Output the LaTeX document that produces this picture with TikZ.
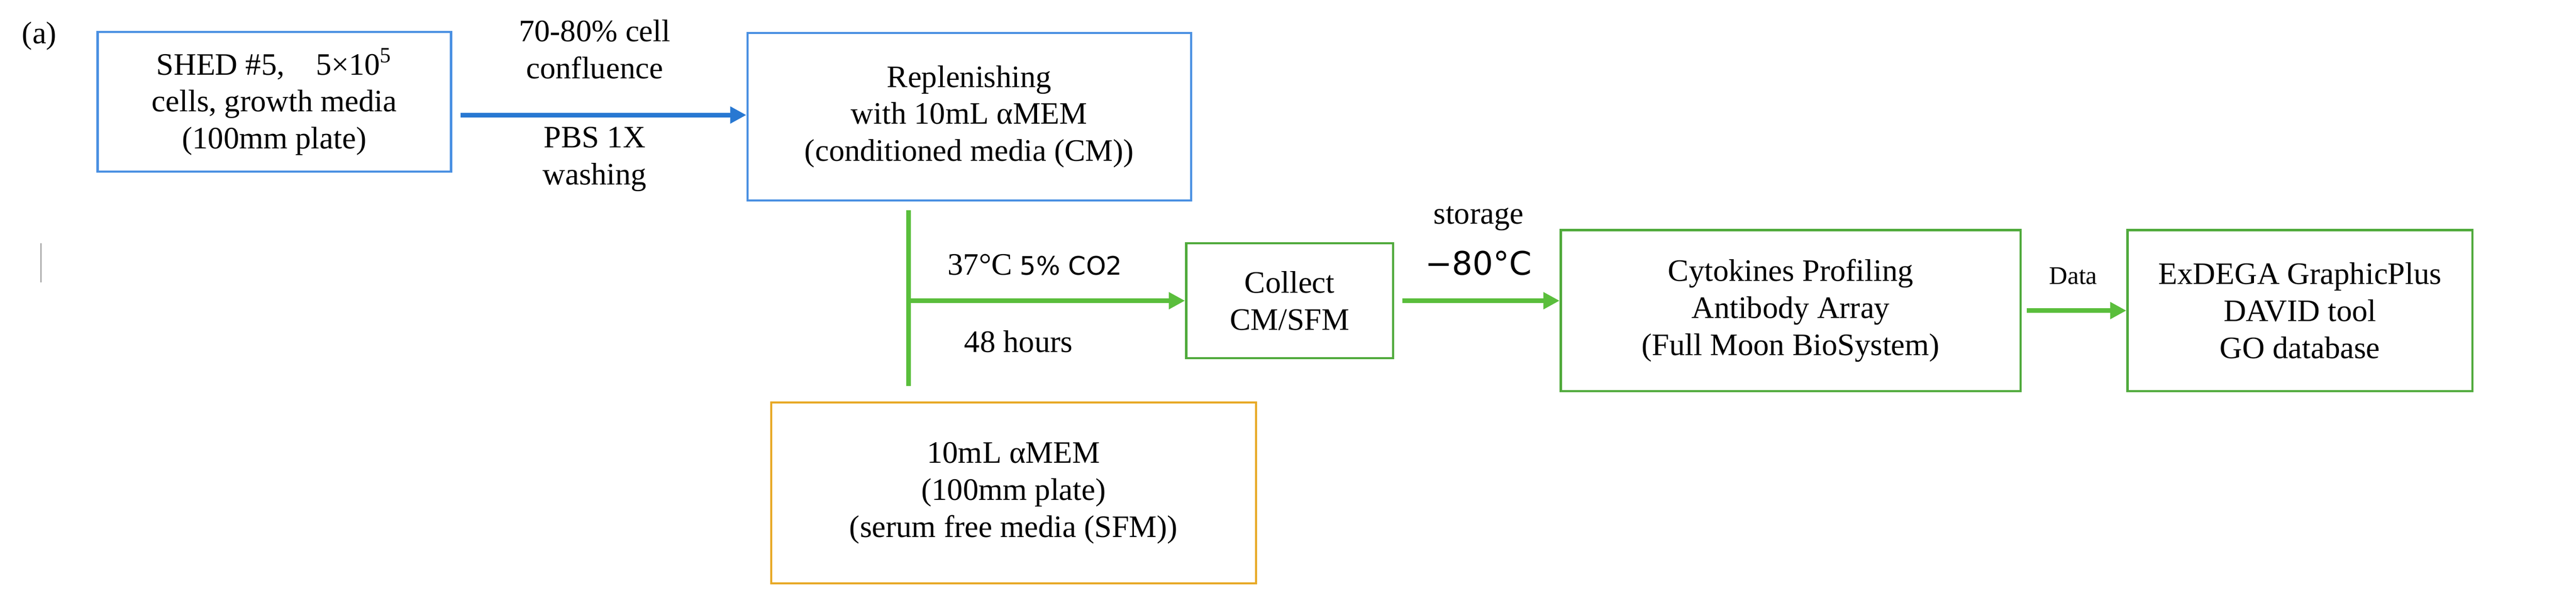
\documentclass[tikz,border=0pt]{standalone}
\usepackage{fontspec}
\setmainfont{Liberation Serif}
\usetikzlibrary{positioning,arrows.meta}
\definecolor{boxblue}{RGB}{74,144,226}
\definecolor{arrblue}{RGB}{40,120,210}
\definecolor{boxgreen}{RGB}{80,170,60}
\definecolor{arrgreen}{RGB}{90,190,60}
\definecolor{boxorange}{RGB}{232,170,40}
\begin{document}
\begin{tikzpicture}[x=0.025cm, y=-0.025cm, font=\fontsize{13.5}{16}\selectfont,
    box/.style={draw, line width=1pt, align=center, inner sep=0pt},
    flow/.style={line width=2pt, -{Triangle[length=7pt,width=7pt]}},
    lbl/.style={align=center, inner sep=1pt}]
    \useasboundingbox (0,0) rectangle (1568,368);
    \node at (24,22) {(a)};
    \draw[gray!60, line width=0.6pt] (25,148) -- (25,172);
    \node[box, draw=boxblue, minimum width=215*0.025cm, minimum height=85*0.025cm] (shed) at (167,62) {SHED \#5,\quad 5×10\textsuperscript{5}\\cells, growth media\\(100mm plate)};
    \node[box, draw=boxblue, minimum width=270*0.025cm, minimum height=102*0.025cm] (replen) at (590,71) {Replenishing\\with 10mL αMEM\\(conditioned media (CM))};
    \node[box, draw=boxorange, minimum width=295*0.025cm, minimum height=110*0.025cm] (sfm) at (617,300) {10mL αMEM\\(100mm plate)\\(serum free media (SFM))};
    \node[box, draw=boxgreen, minimum width=126*0.025cm, minimum height=70*0.025cm] (collect) at (785,183) {Collect\\CM/SFM};
    \node[box, draw=boxgreen, minimum width=280*0.025cm, minimum height=98*0.025cm] (array) at (1090,189) {Cytokines Profiling\\Antibody Array\\(Full Moon BioSystem)};
    \node[box, draw=boxgreen, minimum width=210*0.025cm, minimum height=98*0.025cm] (tools) at (1400,189) {ExDEGA GraphicPlus\\DAVID tool\\GO database};
    % connectors
    \draw[flow, arrblue] (shed.east|-0,70) ++(5,0) coordinate (a0) -- (replen.west|-0,70);
    \node[lbl] at (362,30) {70-80\% cell\\confluence};
    \node[lbl] at (362,97) {PBS 1X\\washing};
    \coordinate (vtop) at (553,128);
    \coordinate (vbot) at (553,235);
    \draw[arrgreen, line width=2pt] (vtop) -- (vbot);
    \draw[flow, arrgreen] (553,183) coordinate (vmid) -- (collect.west);
    \node[lbl] at (630,161) {37°C {\fontspec{DejaVu Sans}\fontsize{11}{13}\selectfont 5\% CO2}};
    \node[lbl] at (620,208) {48 hours};
    \draw[flow, arrgreen] (collect.east) ++(5,0) -- (array.west|-collect.east);
    \node[lbl] at (900,133) {storage};
    \node[lbl] at (900,160) {\fontspec{DejaVu Sans}\fontsize{14}{16}\selectfont −80°C};
    \draw[flow, arrgreen] (array.east) ++(3,0) -- (tools.west);
    \node[lbl] at (1262,168) {\fontsize{11}{13}\selectfont Data};
\end{tikzpicture}
\end{document}
